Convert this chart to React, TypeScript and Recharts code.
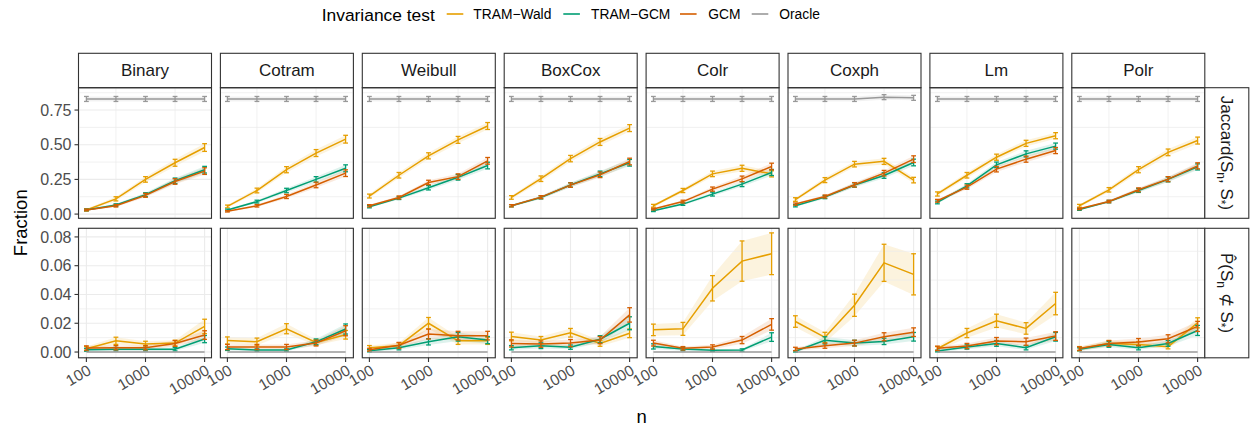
import React from 'react';
import { ComposedChart, Line, Area, XAxis, YAxis, CartesianGrid, ErrorBar, ReferenceLine } from 'recharts';

// ---------- data ----------
const panels = ['Binary', 'Cotram', 'Weibull', 'BoxCox', 'Colr', 'Coxph', 'Lm', 'Polr'];
const nValues = [100, 316, 1000, 3162, 10000];
const xTicks = [100, 1000, 10000];
const xMinor = [316.23, 3162.3];
const jaccardTicks = [0, 0.25, 0.5, 0.75];
const jaccardMinor = [0.125, 0.375, 0.625, 0.875];
const probTicks = [0, 0.02, 0.04, 0.06, 0.08];
const probMinor = [0.01, 0.03, 0.05, 0.07];

const methodNames = ['TRAM−Wald', 'TRAM−GCM', 'GCM', 'Oracle'];
const methodKeys = ['wald', 'tgcm', 'gcm', 'oracle'];
const methodColors = ['#E69F00', '#009E73', '#D55E00', '#999999'];

// Jaccard(S_n, S_*) — one array per panel (Binary ... Polr)
const waldJaccard = [
  [0.03, 0.11, 0.25, 0.37, 0.48],
  [0.055, 0.17, 0.32, 0.44, 0.54],
  [0.13, 0.28, 0.42, 0.535, 0.635],
  [0.12, 0.255, 0.4, 0.52, 0.62],
  [0.06, 0.17, 0.29, 0.33, 0.29],
  [0.105, 0.245, 0.36, 0.38, 0.245],
  [0.145, 0.28, 0.41, 0.51, 0.565],
  [0.06, 0.175, 0.32, 0.445, 0.53],
];
const waldJaccardErr = [
  [0.008, 0.015, 0.02, 0.025, 0.028],
  [0.01, 0.017, 0.022, 0.025, 0.028],
  [0.014, 0.02, 0.022, 0.025, 0.025],
  [0.013, 0.02, 0.023, 0.025, 0.025],
  [0.01, 0.015, 0.02, 0.022, 0.022],
  [0.013, 0.018, 0.02, 0.022, 0.02],
  [0.015, 0.02, 0.022, 0.022, 0.022],
  [0.01, 0.016, 0.022, 0.024, 0.025],
];
const tramGcmJaccard = [
  [0.03, 0.065, 0.14, 0.24, 0.32],
  [0.03, 0.09, 0.17, 0.25, 0.33],
  [0.053, 0.115, 0.19, 0.265, 0.35],
  [0.06, 0.12, 0.21, 0.29, 0.37],
  [0.024, 0.072, 0.144, 0.216, 0.3],
  [0.06, 0.122, 0.21, 0.278, 0.372],
  [0.084, 0.204, 0.355, 0.434, 0.49],
  [0.033, 0.09, 0.17, 0.25, 0.34],
];
const tramGcmJaccardErr = [
  [0.006, 0.009, 0.014, 0.02, 0.024],
  [0.006, 0.01, 0.016, 0.02, 0.025],
  [0.008, 0.01, 0.016, 0.02, 0.024],
  [0.008, 0.011, 0.016, 0.02, 0.024],
  [0.006, 0.009, 0.014, 0.018, 0.022],
  [0.008, 0.011, 0.016, 0.02, 0.024],
  [0.01, 0.015, 0.02, 0.022, 0.022],
  [0.006, 0.009, 0.014, 0.018, 0.022],
];
const gcmJaccard = [
  [0.03, 0.06, 0.135, 0.235, 0.31],
  [0.02, 0.06, 0.127, 0.21, 0.295],
  [0.06, 0.12, 0.228, 0.27, 0.384],
  [0.06, 0.122, 0.209, 0.283, 0.379],
  [0.036, 0.09, 0.18, 0.254, 0.343],
  [0.072, 0.127, 0.211, 0.295, 0.396],
  [0.096, 0.194, 0.324, 0.396, 0.458],
  [0.038, 0.091, 0.175, 0.252, 0.348],
];
const gcmJaccardErr = [
  [0.006, 0.009, 0.014, 0.02, 0.024],
  [0.005, 0.009, 0.015, 0.02, 0.024],
  [0.008, 0.011, 0.016, 0.02, 0.024],
  [0.008, 0.011, 0.016, 0.02, 0.024],
  [0.006, 0.01, 0.015, 0.02, 0.024],
  [0.008, 0.011, 0.016, 0.02, 0.024],
  [0.01, 0.015, 0.02, 0.022, 0.022],
  [0.006, 0.009, 0.014, 0.018, 0.022],
];
const oracleJaccard = [
  [0.83, 0.83, 0.83, 0.83, 0.83],
  [0.83, 0.83, 0.83, 0.83, 0.83],
  [0.83, 0.83, 0.83, 0.83, 0.83],
  [0.83, 0.83, 0.83, 0.83, 0.83],
  [0.83, 0.83, 0.83, 0.83, 0.83],
  [0.83, 0.83, 0.83, 0.843, 0.838],
  [0.83, 0.83, 0.83, 0.83, 0.83],
  [0.83, 0.83, 0.83, 0.83, 0.83],
];
const oracleJaccardErr = [
  [0.018, 0.018, 0.018, 0.018, 0.018],
  [0.018, 0.018, 0.018, 0.018, 0.018],
  [0.018, 0.018, 0.018, 0.018, 0.018],
  [0.018, 0.018, 0.018, 0.018, 0.018],
  [0.018, 0.018, 0.018, 0.018, 0.018],
  [0.018, 0.018, 0.018, 0.018, 0.018],
  [0.018, 0.018, 0.018, 0.018, 0.018],
  [0.018, 0.018, 0.018, 0.018, 0.018],
];

// P-hat(S_n not subset of S_*)
const waldProb = [
  [0.0023, 0.0078, 0.0055, 0.0062, 0.0178],
  [0.008, 0.0072, 0.0162, 0.0067, 0.012],
  [0.003, 0.0044, 0.02, 0.0078, 0.0078],
  [0.0108, 0.0083, 0.0134, 0.006, 0.013],
  [0.0154, 0.0161, 0.0443, 0.0632, 0.0683],
  [0.0212, 0.0102, 0.0325, 0.062, 0.054],
  [0.0023, 0.0132, 0.0217, 0.0164, 0.0337],
  [0.0023, 0.006, 0.0053, 0.0037, 0.0203],
];
const waldProbErr = [
  [0.0015, 0.0025, 0.002, 0.002, 0.005],
  [0.0025, 0.0025, 0.0035, 0.002, 0.003],
  [0.0015, 0.002, 0.004, 0.0025, 0.0025],
  [0.003, 0.0025, 0.003, 0.002, 0.003],
  [0.004, 0.0045, 0.0088, 0.014, 0.0145],
  [0.004, 0.0035, 0.0077, 0.0129, 0.0143],
  [0.0015, 0.0032, 0.0046, 0.004, 0.0078],
  [0.0015, 0.002, 0.002, 0.0015, 0.0035],
];
const tramGcmProb = [
  [0.0016, 0.002, 0.002, 0.002, 0.009],
  [0.0023, 0.0014, 0.0014, 0.0071, 0.016],
  [0.0009, 0.003, 0.0071, 0.0106, 0.0083],
  [0.003, 0.0044, 0.0034, 0.0089, 0.02],
  [0.0039, 0.0021, 0.0012, 0.0014, 0.0104],
  [0.0005, 0.0081, 0.0062, 0.0074, 0.0106],
  [0.0007, 0.0035, 0.006, 0.003, 0.0106],
  [0.0019, 0.0053, 0.003, 0.006, 0.015],
];
const tramGcmProbErr = [
  [0.001, 0.0012, 0.0012, 0.0012, 0.0025],
  [0.0012, 0.0008, 0.0008, 0.002, 0.0035],
  [0.0008, 0.0015, 0.0022, 0.003, 0.0025],
  [0.0015, 0.002, 0.0015, 0.0025, 0.0045],
  [0.0018, 0.0012, 0.0008, 0.0008, 0.003],
  [0.0005, 0.0025, 0.002, 0.0022, 0.003],
  [0.0006, 0.0015, 0.002, 0.0015, 0.003],
  [0.001, 0.002, 0.0015, 0.002, 0.0035],
];
const gcmProb = [
  [0.0028, 0.003, 0.003, 0.006, 0.0118],
  [0.0035, 0.0035, 0.0035, 0.0062, 0.0148],
  [0.0016, 0.0047, 0.0125, 0.0114, 0.0114],
  [0.006, 0.0055, 0.0062, 0.0083, 0.0258],
  [0.0062, 0.0026, 0.0035, 0.0083, 0.0192],
  [0.0021, 0.0044, 0.0062, 0.0106, 0.0138],
  [0.0026, 0.0042, 0.0076, 0.0072, 0.0111],
  [0.0024, 0.006, 0.0069, 0.0092, 0.0178],
];
const gcmProbErr = [
  [0.0015, 0.0015, 0.0015, 0.002, 0.003],
  [0.0018, 0.0018, 0.0018, 0.002, 0.0035],
  [0.001, 0.002, 0.0035, 0.003, 0.003],
  [0.0025, 0.0022, 0.0025, 0.0025, 0.005],
  [0.002, 0.0012, 0.0015, 0.0025, 0.004],
  [0.0012, 0.0018, 0.002, 0.0028, 0.003],
  [0.0015, 0.0018, 0.0025, 0.0025, 0.003],
  [0.0012, 0.002, 0.0025, 0.0028, 0.0035],
];
const oracleProb = [
  [0, 0, 0, 0, 0], [0, 0, 0, 0, 0], [0, 0, 0, 0, 0], [0, 0, 0, 0, 0],
  [0, 0, 0, 0, 0], [0, 0, 0, 0, 0], [0, 0, 0, 0, 0], [0, 0, 0, 0, 0],
];
const oracleProbErr = [
  [0, 0, 0, 0, 0], [0, 0, 0, 0, 0], [0, 0, 0, 0, 0], [0, 0, 0, 0, 0],
  [0, 0, 0, 0, 0], [0, 0, 0, 0, 0], [0, 0, 0, 0, 0], [0, 0, 0, 0, 0],
];

// ---------- layout ----------
const FONT = '"Liberation Sans", Arial, Helvetica, sans-serif';
const W = 1251;
const H = 429;
const PANEL_X0 = 78.5;
const PANEL_STEP = 141.9;
const PANEL_W = 133;
const STRIP_Y = 53.3;
const STRIP_H = 34.4;
const TOP_Y = 87.7;
const TOP_H = 130.6;
const BOT_Y = 228.3;
const BOT_H = 129.5;
const PAD = 9;
const RSTRIP_X = PANEL_X0 + 7 * PANEL_STEP + PANEL_W;
const RSTRIP_W = 44;
const X_DOMAIN = [Math.pow(10, 1.875), Math.pow(10, 4.125)];
const TOP_DOMAIN = [-0.0325, 0.909];
const BOT_DOMAIN = [-0.0038, 0.0862];
const GRID = '#EBEBEB';
const BORDER = '#333333';
const AXIS_TEXT = '#4D4D4D';

function buildRows(means: number[][][], errs: number[][][], p: number) {
  return nValues.map((n, j) => {
    const row: Record<string, any> = { n };
    methodKeys.forEach((k, s) => {
      const m = means[s][p][j];
      const e = errs[s][p][j];
      row[k] = m;
      row[k + 'Err'] = e;
      row[k + 'Rib'] = [m - e, m + e];
    });
    return row;
  });
}

const XTick = (props: any) => {
  const { x, y, payload } = props;
  return (
    <g transform={`translate(${x},${y})`}>
      <text x={0} y={0} dy="0.74em" textAnchor="end" transform="rotate(-30)" fill={AXIS_TEXT} fontSize={15.5} fontFamily={FONT}>
        {payload.value}
      </text>
    </g>
  );
};

function Facet({ p, row }: { p: number; row: number }) {
  const isFirst = p === 0;
  const isBottom = row === 1;
  const yW = isFirst ? 50 : 0;
  const leftMargin = !isFirst && isBottom ? 40 : 0;
  const xH = isBottom ? 45 : 0;
  const panelX = PANEL_X0 + p * PANEL_STEP;
  const chartX = panelX - yW - leftMargin;
  const width = PANEL_W + yW + leftMargin;
  const panelY = isBottom ? BOT_Y : TOP_Y;
  const ph = isBottom ? BOT_H : TOP_H;
  const bottomPad = isBottom ? 0 : PAD;
  const height = PAD + ph + xH + bottomPad;
  const rows = isBottom
    ? buildRows([waldProb, tramGcmProb, gcmProb, oracleProb], [waldProbErr, tramGcmProbErr, gcmProbErr, oracleProbErr], p)
    : buildRows([waldJaccard, tramGcmJaccard, gcmJaccard, oracleJaccard], [waldJaccardErr, tramGcmJaccardErr, gcmJaccardErr, oracleJaccardErr], p);
  const yTicks = isBottom ? probTicks : jaccardTicks;
  const yMinor = isBottom ? probMinor : jaccardMinor;
  const yDomain = isBottom ? BOT_DOMAIN : TOP_DOMAIN;

  return (
    <div style={{ position: 'absolute', left: chartX, top: panelY - PAD, width, height }}>
      <ComposedChart width={width} height={height} data={rows} margin={{ top: PAD, right: 0, bottom: bottomPad, left: leftMargin }}>
        <XAxis
          dataKey="n"
          type="number"
          scale="log"
          domain={X_DOMAIN}
          allowDataOverflow
          ticks={xTicks}
          height={xH}
          axisLine={false}
          tickLine={isBottom ? { stroke: BORDER, strokeWidth: 1.1 } : false}
          tickSize={4.5}
          tickMargin={1.5}
          tick={isBottom ? <XTick /> : false}
          interval={0}
        />
        <YAxis
          type="number"
          domain={yDomain}
          allowDataOverflow
          ticks={yTicks}
          width={yW}
          axisLine={false}
          tickLine={isFirst ? { stroke: BORDER, strokeWidth: 1.1 } : false}
          tickSize={4.5}
          tickMargin={3}
          tick={isFirst ? { fill: AXIS_TEXT, fontSize: 16, fontFamily: FONT } : false}
          tickFormatter={(v: number) => v.toFixed(2)}
          interval={0}
        />
        <CartesianGrid stroke={GRID} strokeWidth={1.1} />
        {xMinor.map((v) => (
          <ReferenceLine key={'xm' + v} x={v} stroke={GRID} strokeWidth={0.7} />
        ))}
        {yMinor.map((v) => (
          <ReferenceLine key={'ym' + v} y={v} stroke={GRID} strokeWidth={0.7} />
        ))}
        {methodKeys.map((k, s) => (
          <Area
            key={'rib' + k}
            type="linear"
            dataKey={k + 'Rib'}
            stroke="none"
            fill={methodColors[s]}
            fillOpacity={0.13}
            dot={false}
            activeDot={false}
            isAnimationActive={false}
          />
        ))}
        {methodKeys.map((k, s) => (
          <Line
            key={'line' + k}
            type="linear"
            dataKey={k}
            stroke={methodColors[s]}
            strokeWidth={1.5}
            dot={false}
            activeDot={false}
            isAnimationActive={false}
          >
            <ErrorBar dataKey={k + 'Err'} direction="y" width={2.4} stroke={methodColors[s]} strokeWidth={1.3} />
          </Line>
        ))}
      </ComposedChart>
    </div>
  );
}

function Overlay() {
  const legendKeys = [446.7, 563.3, 680, 751.7];
  const legendLabels = [473.3, 591, 708.3, 779.3];
  const topCy = TOP_Y + TOP_H / 2;
  const botCy = BOT_Y + BOT_H / 2;
  const rcx = RSTRIP_X + RSTRIP_W / 2;
  return (
    <svg width={W} height={H} style={{ position: 'absolute', left: 0, top: 0, pointerEvents: 'none' }} fontFamily={FONT}>
      {/* legend */}
      <text x={321.7} y={20.5} fontSize={17.4} fill="#000">Invariance test</text>
      {methodNames.map((name, i) => (
        <g key={name}>
          <line x1={legendKeys[i]} x2={legendKeys[i] + 16.6} y1={14} y2={14} stroke={methodColors[i]} strokeWidth={1.6} />
          <text x={legendLabels[i]} y={19.3} fontSize={13.8} fill="#000">{name}</text>
        </g>
      ))}
      {/* strips and panel borders */}
      {panels.map((name, p) => {
        const x = PANEL_X0 + p * PANEL_STEP;
        return (
          <g key={name}>
            <rect x={x} y={STRIP_Y} width={PANEL_W} height={STRIP_H} fill="#FFFFFF" stroke={BORDER} strokeWidth={1.1} />
            <text x={x + PANEL_W / 2} y={STRIP_Y + 22.4} textAnchor="middle" fontSize={17} fill="#1A1A1A">{name}</text>
            <rect x={x} y={TOP_Y} width={PANEL_W} height={TOP_H} fill="none" stroke={BORDER} strokeWidth={1.1} />
            <rect x={x} y={BOT_Y} width={PANEL_W} height={BOT_H} fill="none" stroke={BORDER} strokeWidth={1.1} />
          </g>
        );
      })}
      {/* right strips */}
      <rect x={RSTRIP_X} y={TOP_Y} width={RSTRIP_W} height={TOP_H} fill="#FFFFFF" stroke={BORDER} strokeWidth={1.1} />
      <rect x={RSTRIP_X} y={BOT_Y} width={RSTRIP_W} height={BOT_H} fill="#FFFFFF" stroke={BORDER} strokeWidth={1.1} />
      <text transform={`translate(${rcx - 6},${topCy}) rotate(90)`} textAnchor="middle" fontSize={17} fill="#1A1A1A">
        Jaccard(S<tspan dy="4" fontSize={12}>n</tspan><tspan dy="-4">, S</tspan><tspan dy="4" fontSize={12}>*</tspan><tspan dy="-4">)</tspan>
      </text>
      <text transform={`translate(${rcx - 6},${botCy}) rotate(90)`} textAnchor="middle" fontSize={17} fill="#1A1A1A">
        P̂(S<tspan dy="4" fontSize={12}>n</tspan><tspan dy="-4"> ⊄ S</tspan><tspan dy="4" fontSize={12}>*</tspan><tspan dy="-4">)</tspan>
      </text>
      {/* axis titles */}
      <text transform={`translate(27,${(TOP_Y + BOT_Y + BOT_H) / 2}) rotate(-90)`} textAnchor="middle" fontSize={18.5} fill="#000">Fraction</text>
      <text x={(PANEL_X0 + RSTRIP_X) / 2} y={423} textAnchor="middle" fontSize={18.5} fill="#000">n</text>
    </svg>
  );
}

export default function App() {
  return (
    <div style={{ position: 'absolute', left: 0, top: 0, width: W, height: H, background: '#FFFFFF', fontFamily: FONT, overflow: 'hidden' }}>
      {panels.map((_, p) => (
        <Facet key={'t' + p} p={p} row={0} />
      ))}
      {panels.map((_, p) => (
        <Facet key={'b' + p} p={p} row={1} />
      ))}
      <Overlay />
    </div>
  );
}
